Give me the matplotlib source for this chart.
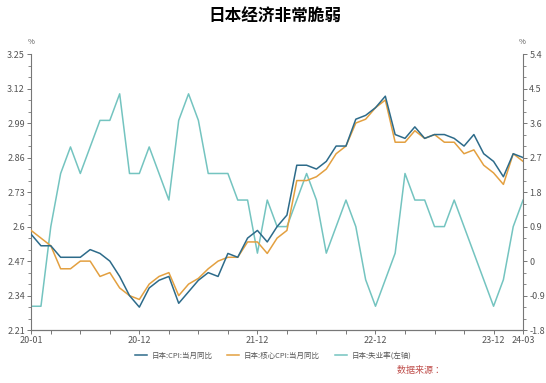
import matplotlib
matplotlib.use("Agg")
import matplotlib.pyplot as plt
from matplotlib.ticker import FixedLocator, FixedFormatter
from matplotlib.lines import Line2D

plt.rcParams['font.family'] = ['Noto Sans CJK SC', 'DejaVu Sans']

# ---------------- data ----------------
months = [f"{y:02d}-{m:02d}" for y in range(20, 25) for m in range(1, 13)][:51]

cpi = [0.7, 0.4, 0.4, 0.1, 0.1, 0.1, 0.3, 0.2, 0.0, -0.4, -0.9, -1.2,
       -0.7, -0.5, -0.4, -1.1, -0.8, -0.5, -0.3, -0.4, 0.2, 0.1, 0.6, 0.8,
       0.5, 0.9, 1.2, 2.5, 2.5, 2.4, 2.6, 3.0, 3.0, 3.7, 3.8, 4.0,
       4.3, 3.3, 3.2, 3.5, 3.2, 3.3, 3.3, 3.2, 3.0, 3.3, 2.8, 2.6,
       2.2, 2.8, 2.7]

core_cpi = [0.8, 0.6, 0.4, -0.2, -0.2, 0.0, 0.0, -0.4, -0.3, -0.7, -0.9, -1.0,
            -0.6, -0.4, -0.3, -0.9, -0.6, -0.45, -0.2, 0.0, 0.1, 0.1, 0.5, 0.5,
            0.2, 0.6, 0.8, 2.1, 2.1, 2.2, 2.4, 2.8, 3.0, 3.6, 3.7, 4.0,
            4.2, 3.1, 3.1, 3.4, 3.2, 3.3, 3.1, 3.1, 2.8, 2.9, 2.5, 2.3,
            2.0, 2.8, 2.6]

unemployment = [2.3, 2.3, 2.6, 2.8, 2.9, 2.8, 2.9, 3.0, 3.0, 3.1, 2.8, 2.8,
                2.9, 2.8, 2.7, 3.0, 3.1, 3.0, 2.8, 2.8, 2.8, 2.7, 2.7, 2.5,
                2.7, 2.6, 2.6, 2.7, 2.8, 2.7, 2.5, 2.6, 2.7, 2.6, 2.4, 2.3,
                2.4, 2.5, 2.8, 2.7, 2.7, 2.6, 2.6, 2.7, 2.6, 2.5, 2.4, 2.3,
                2.4, 2.6, 2.7]

left_ticks = [2.21, 2.34, 2.47, 2.6, 2.73, 2.86, 2.99, 3.12, 3.25]
right_ticks = [-1.8, -0.9, 0, 0.9, 1.8, 2.7, 3.6, 4.5, 5.4]
labeled_months = ["20-01", "20-12", "21-12", "22-12", "23-12", "24-03"]

series_names = ["日本:CPI:当月同比", "日本:核心CPI:当月同比", "日本:失业率(左轴)"]
title = "日本经济非常脆弱"
source_text = "数据来源 ："

# ---------------- style ----------------
c_cpi = "#2d6b8a"
c_core = "#e3a040"
c_unemp = "#74c4c0"
grey = "#555555"
spine_c = "#777777"

fig = plt.figure(figsize=(5.46, 3.83), dpi=100)
ax = fig.add_axes([0.057, 0.138, 0.901, 0.721])
ax2 = ax.twinx()

x = list(range(len(months)))
ln_u, = ax.plot(x, unemployment, color=c_unemp, lw=1.1, zorder=2)
ln_c, = ax2.plot(x, cpi, color=c_cpi, lw=1.1, zorder=3)
ln_k, = ax2.plot(x, core_cpi, color=c_core, lw=1.1, zorder=2)

ax.set_xlim(0, len(months) - 1)
ax.set_ylim(left_ticks[0], left_ticks[-1])
ax2.set_ylim(right_ticks[0], right_ticks[-1])

# x ticks every quarter (aligned with Dec) plus first month
xt = [0] + list(range(2, len(months), 3))
xl = [months[i] if months[i] in labeled_months else "" for i in xt]
ax.xaxis.set_major_locator(FixedLocator(xt))
ax.xaxis.set_major_formatter(FixedFormatter(xl))

ax.yaxis.set_major_locator(FixedLocator(left_ticks))
ax.set_yticklabels([f"{v:g}" for v in left_ticks])
lminor = []
for a, b in zip(left_ticks[:-1], left_ticks[1:]):
    lminor += [a + (b - a) / 3, a + 2 * (b - a) / 3]
ax.yaxis.set_minor_locator(FixedLocator(lminor))

ax2.yaxis.set_major_locator(FixedLocator(right_ticks))
ax2.set_yticklabels([f"{round(v, 2):g}" for v in right_ticks])
rminor = []
for a, b in zip(right_ticks[:-1], right_ticks[1:]):
    rminor += [a + (b - a) / 3, a + 2 * (b - a) / 3]
ax2.yaxis.set_minor_locator(FixedLocator(rminor))

for a in (ax, ax2):
    a.spines['top'].set_visible(False)
    for s in ('left', 'right', 'bottom'):
        a.spines[s].set_color(spine_c)
        a.spines[s].set_linewidth(0.8)
    a.tick_params(axis='both', which='major', length=3, width=0.7, color=spine_c,
                  labelsize=6.5, labelcolor=grey, pad=1.5)
    a.tick_params(axis='both', which='minor', length=2, width=0.6, color=spine_c)
ax2.spines['left'].set_visible(False)
ax.spines['right'].set_visible(False)

fig.text(0.057, 0.89, "%", fontsize=5.5, color=grey, ha='center', va='center')
fig.text(0.956, 0.89, "%", fontsize=5.5, color=grey, ha='center', va='center')

fig.text(0.503, 0.956, title, fontsize=12, fontweight='bold', ha='center',
         va='center', color='black')

handles = [Line2D([], [], color=c_cpi, lw=1.1),
           Line2D([], [], color=c_core, lw=1.1),
           Line2D([], [], color=c_unemp, lw=1.1)]
fig.legend(handles, series_names, loc='center', bbox_to_anchor=(0.5, 0.071),
           ncol=3, frameon=False, fontsize=5.4, handlelength=1.6,
           columnspacing=2.0, handletextpad=0.6, labelcolor=grey)

fig.text(0.727, 0.032, source_text, fontsize=6.5, color="#c0504d",
         style='italic', ha='left', va='center')

fig.savefig("out.png", dpi=100)
